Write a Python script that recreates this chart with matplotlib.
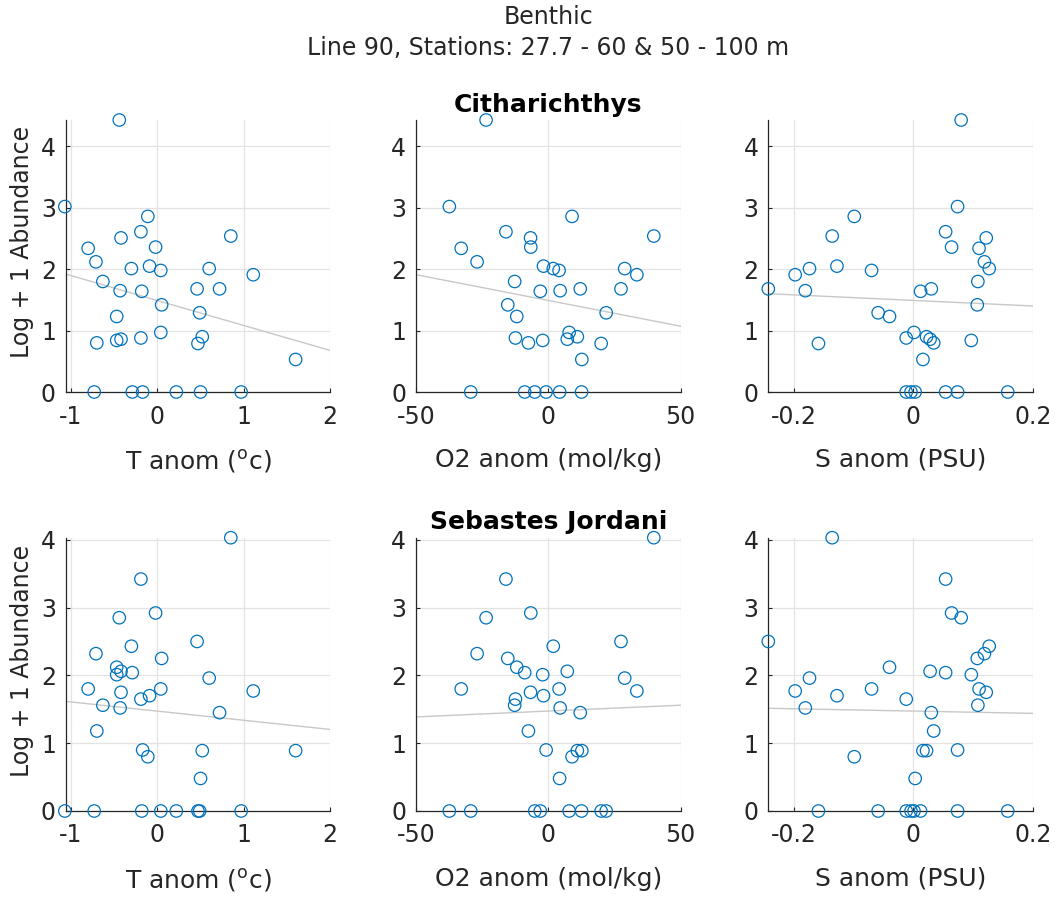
import numpy as np
import matplotlib
matplotlib.use("Agg")
import matplotlib.pyplot as plt

plt.rcParams.update({
    'font.family': ['DejaVu Sans'],
    'mathtext.default': 'regular',
    'axes.spines.top': False,
    'axes.spines.right': False,
})

# station anomalies (one entry per station, same order in every array)
t_anom = [-0.44, -1.07, -0.11, -0.19, 0.85, -0.42, -0.02, -0.80, -0.71, -0.09,
          -0.30, 0.60, 0.04, 1.11, -0.63, 0.46, 0.72, -0.43, -0.18, 0.05,
          0.49, -0.47, 0.04, 0.52, -0.19, -0.42, -0.47, -0.70, 0.47, 1.60,
          -0.73, -0.29, -0.17, 0.22, 0.50, 0.97]
o2_anom = [-23.5, -37.4, 9.0, -16.0, 39.9, -6.7, -6.6, -32.9, -26.9, -1.8,
           1.9, 28.9, 4.1, 33.5, -12.7, 27.5, 12.1, 4.5, -3.0, -15.3,
           21.9, -11.9, 7.9, 11.0, -12.4, 7.2, -2.1, -7.5, 20.0, 12.7,
           -29.3, -8.9, -0.8, -5.1, 4.3, 12.6]
s_anom = [0.080, 0.074, -0.099, 0.054, -0.136, 0.122, 0.064, 0.110, 0.119, -0.128,
          0.127, -0.174, -0.070, -0.198, 0.108, -0.243, 0.030, -0.181, 0.012, 0.107,
          -0.059, -0.040, 0.001, 0.022, -0.012, 0.028, 0.097, 0.034, -0.159, 0.016,
          -0.012, 0.054, 0.074, -0.004, 0.003, 0.158]

# log + 1 abundance per station
citharichthys = [4.43, 3.02, 2.86, 2.61, 2.54, 2.51, 2.36, 2.34, 2.12, 2.05,
                 2.01, 2.01, 1.98, 1.91, 1.80, 1.68, 1.68, 1.65, 1.64, 1.42,
                 1.29, 1.23, 0.97, 0.90, 0.88, 0.86, 0.84, 0.80, 0.79, 0.53,
                 0, 0, 0, 0, 0, 0]
sebastes = [2.85, 0, 0.80, 3.42, 4.03, 1.75, 2.92, 1.80, 2.32, 1.70,
            2.43, 1.96, 1.80, 1.77, 1.56, 2.50, 1.45, 1.52, 0, 2.25,
            0, 2.12, 0, 0.89, 1.65, 2.06, 2.01, 1.18, 0, 0.89,
            0, 2.04, 0.90, 0, 0.48, 0]

species = [('Citharichthys', citharichthys), ('Sebastes Jordani', sebastes)]
variables = [
    (t_anom, 'T anom ($^{o}$c)', (-1.06, 2), [-1, 0, 1, 2], ['-1', '0', '1', '2']),
    (o2_anom, 'O2 anom (mol/kg)', (-50, 50), [-50, 0, 50], ['-50', '0', '50']),
    (s_anom, 'S anom (PSU)', (-0.243, 0.2), [-0.2, 0, 0.2], ['-0.2', '0', '0.2']),
]

W, H = 1056, 898
fig = plt.figure(figsize=(W / 100, H / 100), dpi=100)

lefts = [65.7, 416, 768.3]
width = 264.5
rows = [(120, 392), (537.7, 811)]
dark = '#262626'
blue = '#0072BD'

for r, (name, abund) in enumerate(species):
    top, bot = rows[r]
    y = np.array(abund)
    for c, (xvals, xlabel, xlim, xt, xtl) in enumerate(variables):
        x = np.array(xvals)
        ax = fig.add_axes([lefts[c] / W, 1 - bot / H, width / W, (bot - top) / H])
        ax.scatter(x, y, s=80, facecolors='none', edgecolors=blue, linewidths=0.9,
                   zorder=3, clip_on=False)
        # least squares trend
        p = np.polyfit(x, y, 1)
        xx = np.array(xlim)
        ax.plot(xx, np.polyval(p, xx), color='#c8c8c8', lw=1.0, zorder=2)
        ax.set_xlim(xlim)
        ax.set_ylim(0, y.max())
        ax.set_xticks(xt)
        ax.set_xticklabels(xtl)
        ax.set_yticks([0, 1, 2, 3, 4])
        ax.grid(True, color='#e3e3e3', lw=0.9)
        ax.set_axisbelow(True)
        for sp in ['left', 'bottom']:
            ax.spines[sp].set_color(dark)
            ax.spines[sp].set_linewidth(0.9)
        ax.tick_params(direction='in', length=3, width=0.8, color=dark,
                       labelsize=17, labelcolor=dark)
        ax.tick_params(axis='x', pad=9)
        ax.tick_params(axis='y', pad=7)
        ax.set_xlabel(xlabel, fontsize=18, color=dark, labelpad=14)
        if c == 0:
            ax.set_ylabel('Log + 1 Abundance', fontsize=17, color=dark)
            ax.yaxis.set_label_coords(-0.118, 0.55)
        if c == 1:
            ax.set_title(name, fontsize=18, fontweight='bold', pad=6)

fig.text(548 / W, 1 - 17 / H, 'Benthic', ha='center', va='center', fontsize=17, color=dark)
fig.text(548 / W, 1 - 48 / H, 'Line 90, Stations: 27.7 - 60 & 50 - 100 m',
         ha='center', va='center', fontsize=17, color=dark)

fig.savefig('out.png', dpi=100, facecolor='white')
